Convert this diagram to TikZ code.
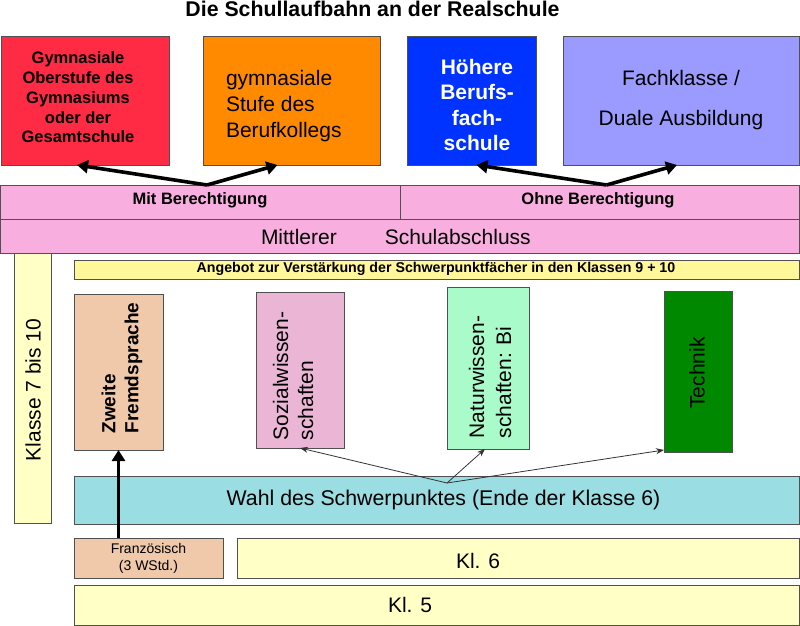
\documentclass[tikz,border=0pt]{standalone}
\usepackage{fontspec}
\setmainfont{Liberation Sans}
\usetikzlibrary{arrows.meta,calc}
\definecolor{edge}{HTML}{505050}
\definecolor{cred}{HTML}{FF2B45}
\definecolor{corange}{HTML}{FF8A00}
\definecolor{cblue}{HTML}{0033FF}
\definecolor{clav}{HTML}{9B9BFF}
\definecolor{cpink}{HTML}{F9AEE0}
\definecolor{cyell}{HTML}{FFFFC6}
\definecolor{cyellow}{HTML}{FFF799}
\definecolor{cpeach}{HTML}{EFC9A9}
\definecolor{csoz}{HTML}{EBB6D6}
\definecolor{cnat}{HTML}{A9FBC9}
\definecolor{ctech}{HTML}{008800}
\definecolor{cwahl}{HTML}{9ADDE3}
\begin{document}
\begin{tikzpicture}[x=1pt,y=-1pt,
  box/.style={draw=edge, line width=0.9pt, rectangle, inner sep=0pt, outer sep=0pt},
  txt/.style={inner sep=0pt, outer sep=0pt, align=center},
  bigarrow/.style={line width=3.6pt, -{Triangle[length=11pt,width=13pt]}},
  thinarrow/.style={draw=black!80, line width=0.8pt, -{Stealth[length=8pt,width=6pt]}},
  f21/.style={font=\fontsize{21}{26}\selectfont}]
\useasboundingbox (0,0) rectangle (800,626);

% title
\node[txt, anchor=base, font=\fontsize{21.3}{25}\selectfont\bfseries] (title) at (372.5,17) {Die Schullaufbahn an der Realschule};

% top boxes
\node[box, fill=cred, minimum width=168, minimum height=129] (red) at (85,100.5) {};
\node[txt, font=\fontsize{16.5}{19.8}\selectfont\bfseries] (redtxt) at (78,97.5) {Gymnasiale\\Oberstufe des\\Gymnasiums\\oder der\\Gesamtschule};
\node[box, fill=corange, minimum width=177, minimum height=129] (orange) at (291.5,100.5) {};
\node[txt, align=left, anchor=west, f21] (orangetxt) at (226,106) {gymnasiale\\Stufe des\\Berufkollegs};
\node[box, fill=cblue, minimum width=129, minimum height=129] (blue) at (471.5,100.5) {};
\node[txt, text=white, font=\fontsize{21}{25.3}\selectfont\bfseries] (bluetxt) at (477,105) {Höhere\\Berufs-\\fach-\\schule};
\node[box, fill=clav, minimum width=236, minimum height=129] (lav) at (681,100.5) {};
\node[txt, font=\fontsize{21}{40}\selectfont] (lavtxt) at (681,100) {Fachklasse /\\Duale Ausbildung};

% pink rows
\node[box, fill=cpink, minimum width=400, minimum height=34] (mit) at (200,202) {};
\node[txt, font=\fontsize{16.5}{20}\selectfont\bfseries] (mittxt) at (200,200) {Mit Berechtigung};
\node[box, fill=cpink, minimum width=399, minimum height=34] (ohne) at (599.5,202) {};
\node[txt, font=\fontsize{16.5}{20}\selectfont\bfseries] (ohnetxt) at (598,200) {Ohne Berechtigung};
\node[box, fill=cpink, minimum width=799, minimum height=34] (msa) at (399.5,236) {};
\node[txt, anchor=west, f21] (msatxt) at (261,236.5) {Mittlerer\hspace{48pt}Schulabschluss};

% arrows to top boxes
\draw[bigarrow] ([xshift=7pt]mit.north) -- ([xshift=-8pt]red.south);
\draw[bigarrow] ([xshift=7pt]mit.north) -- ([xshift=-14pt]orange.south);
\draw[bigarrow] ([xshift=7pt]ohne.north) -- ([xshift=5pt]blue.south);
\draw[bigarrow] ([xshift=7pt]ohne.north) -- ([xshift=-4pt]lav.south);

% Klasse 7 bis 10
\node[box, fill=cyell, minimum width=37, minimum height=270] (klasse) at (32.5,388) {};
\node[txt, rotate=90, f21] (klassetxt) at (33,390) {Klasse 7 bis 10};

% Angebot
\node[box, fill=cyellow, minimum width=725, minimum height=19] (angebot) at (436.5,269.5) {};
\node[txt, font=\fontsize{14.2}{16}\selectfont\bfseries] (angebottxt) at (436,268.5) {Angebot zur Verstärkung der Schwerpunktfächer in den Klassen 9 + 10};

% subject boxes
\node[box, fill=cpeach, minimum width=89, minimum height=156] (zweite) at (118.5,372) {};
\node[txt, rotate=90, align=left, font=\fontsize{19}{23}\selectfont\bfseries] (zweitetxt) at (122,368) {Zweite\\Fremdsprache};
\node[box, fill=csoz, minimum width=88, minimum height=156] (sozial) at (300,370) {};
\node[txt, rotate=90, align=left, font=\fontsize{21}{25}\selectfont] (sozialtxt) at (293,376) {Sozialwissen-\\schaften};
\node[box, fill=cnat, minimum width=82, minimum height=162] (natur) at (488,368) {};
\node[txt, rotate=90, align=left, font=\fontsize{21}{27}\selectfont] (naturtxt) at (490,377) {Naturwissen-\\schaften: Bi};
\node[box, fill=ctech, minimum width=68, minimum height=161] (technik) at (698,371.5) {};
\node[txt, rotate=90, f21] (techniktxt) at (697,373) {Technik};

% Wahl
\node[box, fill=cwahl, minimum width=725, minimum height=48] (wahl) at (436.5,500) {};
\node[txt, font=\fontsize{21.3}{26}\selectfont] (wahltxt) at (443.5,500) {Wahl des Schwerpunktes (Ende der Klasse 6)};
\coordinate (wahlsrc) at (447,483);
\draw[thinarrow] (wahlsrc) -- (sozial.south);
\draw[thinarrow] (wahlsrc) -- ([xshift=-3pt]natur.south);
\draw[thinarrow] (wahlsrc) -- ([yshift=2pt]technik.south west);

% Kl. 5/6
\node[box, fill=cpeach, minimum width=149, minimum height=40] (franz) at (148.5,558) {};
\node[txt, font=\fontsize{14}{17}\selectfont] (franztxt) at (148.5,558) {Französisch\\(3 WStd.)};
\node[box, fill=cyell, minimum width=562, minimum height=40] (kl6) at (518,558) {};
\node[txt, f21] (kl6txt) at (478,561) {Kl. 6};
\node[box, fill=cyell, minimum width=725, minimum height=40] (kl5) at (436.5,605) {};
\node[txt, f21] (kl5txt) at (410,605) {Kl. 5};

\draw[bigarrow] (zweite.south |- franz.north) -- (zweite.south);
\end{tikzpicture}
\end{document}
